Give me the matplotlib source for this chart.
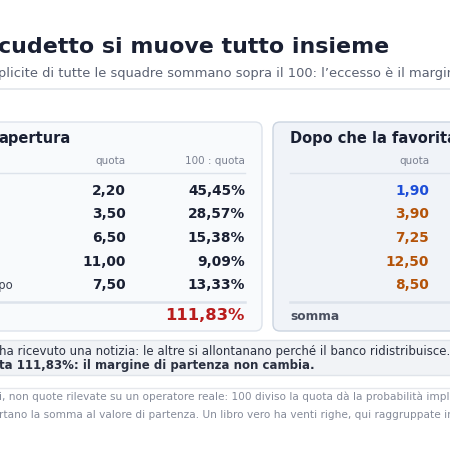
import matplotlib
matplotlib.use("Agg")
import matplotlib.pyplot as plt
from matplotlib.patches import FancyBboxPatch, Rectangle

# data
squadre = ["Favorita", "Seconda", "Terza", "Quarta", "Altro gruppo"]
quote_apertura = [2.20, 3.50, 6.50, 11.00, 7.50]
quote_dopo = [1.90, 3.90, 7.25, 12.50, 8.50]


def fmt(v, dec=2):
    return f"{v:.{dec}f}".replace(".", ",")


fig = plt.figure(figsize=(4.5, 4.5), dpi=100)
ax = fig.add_axes([0, 0, 1, 1])
ax.set_xlim(0, 450)
ax.set_ylim(450, 0)
ax.axis("off")

dark = "#1a2033"
grey = "#5b6273"

# header
ax.text(-2, 47, "cudetto si muove tutto insieme", fontsize=15.9, weight="bold",
        color=dark, va="center", ha="left")
ax.text(-2, 73, "plicite di tutte le squadre sommano sopra il 100: l\u2019eccesso \u00e8 il margine",
        fontsize=9.4, color=grey, va="center", ha="left")
ax.plot([0, 450], [89, 89], color="#e3e6eb", lw=1.2)

# panels
ax.add_patch(FancyBboxPatch((-20, 122), 282, 209, boxstyle="round,pad=0,rounding_size=7",
                            fc="#f8fafc", ec="#dde3eb", lw=1))
ax.add_patch(FancyBboxPatch((273, 122), 200, 209, boxstyle="round,pad=0,rounding_size=7",
                            fc="#f0f3f8", ec="#cbd4e0", lw=1))

ax.text(-2, 139, "apertura", fontsize=10.5, weight="bold", color=dark, va="center")
ax.text(290, 139, "Dopo che la favorita", fontsize=10.5, weight="bold", color=dark, va="center")

ax.text(126, 161, "quota", fontsize=7.5, color="#7a8090", ha="right", va="center")
ax.text(245, 161, "100 : quota", fontsize=7.5, color="#7a8090", ha="right", va="center")
ax.text(429, 161, "quota", fontsize=7.5, color="#7a8090", ha="right", va="center")
ax.plot([0, 245], [173, 173], color="#dde3eb", lw=1)
ax.plot([290, 450], [173, 173], color="#dde3eb", lw=1)

row_y = [191, 214.5, 238, 261.5, 285]
for i, (nome, q0, q1) in enumerate(zip(squadre, quote_apertura, quote_dopo)):
    y = row_y[i]
    if i == len(squadre) - 1:
        ax.text(13, y, nome, fontsize=8.4, color="#3a4050", ha="right", va="center")
    ax.text(126, y, fmt(q0), fontsize=9.9, weight="bold", color=dark, ha="right", va="center")
    ax.text(245, y, fmt(100 / q0) + "%", fontsize=9.9, weight="bold", color=dark,
            ha="right", va="center")
    col = "#1d4ed8" if q1 < q0 else "#b45309"
    ax.text(429, y, fmt(q1), fontsize=9.9, weight="bold", color=col, ha="right", va="center")

ax.plot([0, 245], [302, 302], color="#dde3eb", lw=1.8)
ax.plot([290, 450], [302, 302], color="#dde3eb", lw=1.8)
somma0 = sum(100 / q for q in quote_apertura)
ax.text(245, 316, fmt(somma0) + "%", fontsize=11.8, weight="bold", color="#b91c1c",
        ha="right", va="center")
ax.text(290, 316, "somma", fontsize=8.8, weight="bold", color="#4a5060", va="center")

# note box
ax.add_patch(Rectangle((-5, 340), 470, 35, fc="#f1f3f6", ec="#e0e4ea", lw=1))
ax.text(-1, 351, "ha ricevuto una notizia: le altre si allontanano perch\u00e9 il banco ridistribuisce.",
        fontsize=8.5, color="#2a3040", va="center")
ax.text(-1, 365, "ta " + fmt(somma0) + "%: il margine di partenza non cambia.",
        fontsize=8.5, weight="bold", color="#2a3040", va="center")

ax.plot([0, 450], [388, 388], color="#e6e8ec", lw=1)
ax.text(-1, 397, "i, non quote rilevate su un operatore reale: 100 diviso la quota d\u00e0 la probabilit\u00e0 implicita",
        fontsize=7.6, color="#858b99", va="center")
ax.text(-1, 415, "rtano la somma al valore di partenza. Un libro vero ha venti righe, qui raggruppate in",
        fontsize=7.6, color="#858b99", va="center")

fig.savefig("out.png", dpi=100)
